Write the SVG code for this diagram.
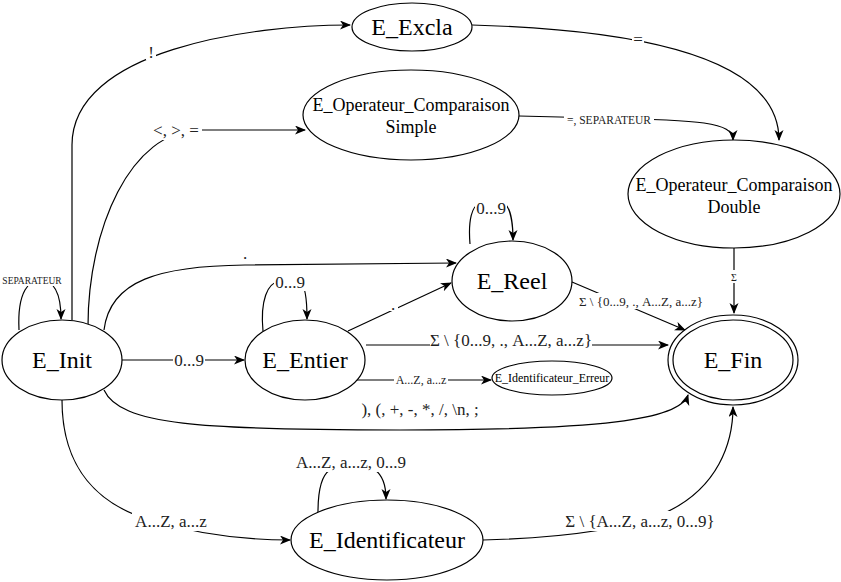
<svg xmlns="http://www.w3.org/2000/svg" width="841" height="582" viewBox="0 0 841 582" font-family="Liberation Serif, Times New Roman, serif">
<defs>
<marker id="arr" markerUnits="userSpaceOnUse" markerWidth="12" markerHeight="10" refX="10" refY="4.5" orient="auto">
<path d="M0,0 L11,4.5 L0,9 L3,4.5 z" fill="#000"/>
</marker>
<style>
.n{fill:#fff;stroke:#000;stroke-width:1.2}
.t{fill:#000;text-anchor:middle}
.big{font-size:24px}
.mid{font-size:18px}
.e{fill:none;stroke:#000;stroke-width:1.2;marker-end:url(#arr)}
.l{fill:#222;text-anchor:middle;font-size:17px}
.s12{font-size:12px}
.s13{font-size:13px}
.s11{font-size:11.5px}
.s10{font-size:10px}
.s9{font-size:9.5px}
.bg{fill:#fff}
</style>
</defs>
<rect width="841" height="582" fill="#fff"/>
<g id="edges">
<path class="e" d="M72 320 L72 145 C72 50 250 25 350 25"/>
<path class="e" d="M88 326 C88 230 130 130 200 130 L305 130"/>
<path class="e" d="M519 116 L600 118 C700 120 733 122 733 140"/>
<path class="e" d="M472 25 C650 30 779 60 779 140"/>
<path class="e" d="M734 248 L734 313"/>
<path class="e" d="M19 330 C17 290 30 280 40 280 C55 280 61 295 61 319"/>
<path class="e" d="M122 360 L244 360"/>
<path class="e" d="M104 330 C110 280 160 266 245 265 L456 263"/>
<path class="e" d="M263 331 C260 300 268 283 278 282 L300 282 C305 285 307 300 307 319"/>
<path class="e" d="M348 331 L451 283"/>
<path class="e" d="M366 345 L668 345"/>
<path class="e" d="M355 380 L491 380"/>
<path class="e" d="M572 282 L685 330"/>
<path class="e" d="M104 390 C120 425 200 430 400 430 C600 430 680 420 688 395"/>
<path class="e" d="M470 244 C468 220 472 205 480 204 L505 204 C510 208 513 222 513 240"/>
<path class="e" d="M62 400 C62 470 100 505 150 520 C200 535 250 540 290 540"/>
<path class="e" d="M318 512 C318 490 322 475 330 470 L375 470 C382 475 386 485 386 499"/>
<path class="e" d="M483 540 C560 538 620 530 660 515 C720 490 733 440 733 407"/>
</g>
<g id="edge-labels">
<rect class="bg" x="146" y="42" width="10" height="18"/>
<text class="l" x="151" y="58">!</text>
<rect class="bg" x="150" y="121" width="52" height="19"/>
<text class="l" x="176" y="136">&lt;, &gt;, =</text>
<rect class="bg" x="632" y="33" width="12" height="14"/>
<text class="l" x="638" y="45">=</text>
<rect class="bg" x="564" y="113" width="90" height="13"/>
<text class="l s11" x="609" y="124">=, SEPARATEUR</text>
<rect class="bg" x="729" y="270" width="10" height="13"/>
<text class="l s10" x="734" y="281">Σ</text>
<rect class="bg" x="0" y="274" width="64" height="12"/>
<text class="l s9" x="32" y="284">SEPARATEUR</text>
<text class="l" x="245" y="259">.</text>
<rect class="bg" x="274" y="274" width="32" height="17"/>
<text class="l" x="290" y="288">0...9</text>
<rect class="bg" x="475" y="199" width="32" height="17"/>
<text class="l" x="491" y="214">0...9</text>
<rect class="bg" x="173" y="352" width="32" height="17"/>
<text class="l" x="189" y="366">0...9</text>
<rect class="bg" x="389" y="297" width="9" height="14"/>
<text class="l" x="393" y="310">.</text>
<rect class="bg" x="430" y="331" width="162" height="20"/>
<text class="l" x="511" y="346">Σ \ {0...9, ., A...Z, a...z}</text>
<rect class="bg" x="394" y="374" width="54" height="13"/>
<text class="l s12" x="421" y="384">A...Z, a...z</text>
<rect class="bg" x="575" y="293" width="133" height="16"/>
<text class="l s13" x="641" y="306">Σ \ {0...9, ., A...Z, a...z}</text>
<rect class="bg" x="356" y="400" width="128" height="19"/>
<text class="l" x="420" y="415">), (, +, -, *, /, \n, ;</text>
<rect class="bg" x="292" y="453" width="119" height="19"/>
<text class="l" x="351" y="468">A...Z, a...z, 0...9</text>
<rect class="bg" x="132" y="511" width="78" height="20"/>
<text class="l" x="171" y="527">A...Z, a...z</text>
<rect class="bg" x="558" y="511" width="164" height="20"/>
<text class="l" x="640" y="527">Σ \ {A...Z, a...z, 0...9}</text>
</g>
<g id="E_Excla">
<ellipse class="n" cx="412" cy="27" rx="60" ry="24"/>
<text class="t big" x="412" y="35">E_Excla</text>
</g>
<g id="E_Operateur_Comparaison_Simple">
<ellipse class="n" cx="411" cy="115" rx="108" ry="45"/>
<text class="t mid" x="411" y="111">E_Operateur_Comparaison</text>
<text class="t mid" x="411" y="133">Simple</text>
</g>
<g id="E_Operateur_Comparaison_Double">
<ellipse class="n" cx="734" cy="194" rx="106" ry="54"/>
<text class="t mid" x="734" y="191">E_Operateur_Comparaison</text>
<text class="t mid" x="734" y="213">Double</text>
</g>
<g id="E_Init">
<ellipse class="n" cx="62" cy="360" rx="60" ry="40"/>
<text class="t big" x="62" y="368">E_Init</text>
</g>
<g id="E_Entier">
<ellipse class="n" cx="305" cy="360" rx="60" ry="40"/>
<text class="t big" x="305" y="368">E_Entier</text>
</g>
<g id="E_Reel">
<ellipse class="n" cx="512" cy="281" rx="60" ry="40"/>
<text class="t big" x="512" y="289">E_Reel</text>
</g>
<g id="E_Fin">
<ellipse class="n" cx="733" cy="360" rx="65" ry="45"/>
<ellipse class="n" cx="733" cy="360" rx="60" ry="40"/>
<text class="t big" x="733" y="368">E_Fin</text>
</g>
<g id="E_Identificateur_Erreur">
<ellipse class="n" cx="552" cy="378" rx="60" ry="17"/>
<text class="t s12" x="552" y="382">E_Identificateur_Erreur</text>
</g>
<g id="E_Identificateur">
<ellipse class="n" cx="387" cy="540" rx="96" ry="40"/>
<text class="t big" x="387" y="548">E_Identificateur</text>
</g>
</svg>
